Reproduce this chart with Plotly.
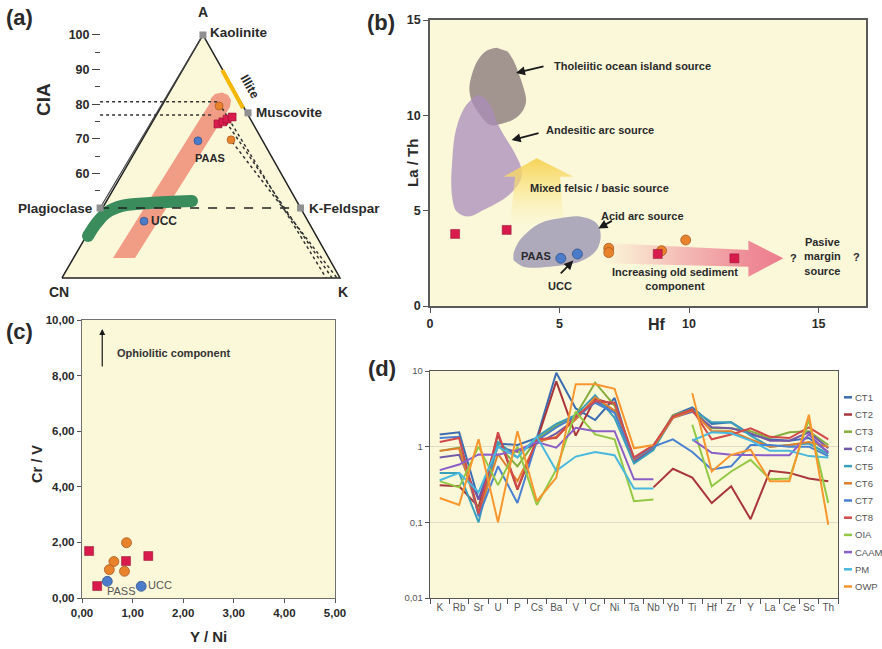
import plotly.graph_objects as go

W, H = 882, 649
FONT = "Liberation Sans, Arial, Helvetica, sans-serif"
INK = "#2a2a2a"
PANEL_BG = "#FBF8DA"
RED_SQ = "#D81B4C"
ORANGE = "#E8832C"
BLUE = "#4C7CC9"


def fx(p):
    return p / W


def fy(p):
    return 1 - p / H


def bold(vals):
    return [f"<b>{v}</b>" for v in vals]


# ================= (a) A-CN-K diagram =================
tri_pos = [0, 50.7, 100, 0]
tri_cia = [29.8, 100, 29.8, 29.8]
mineral_names = ["Kaolinite", "Muscovite", "Plagioclase", "K-Feldspar"]
mineral_pos = [50.7, 66.9, 13.7, 85.8]
mineral_cia = [100, 77.5, 50, 50]
illite_pos = [57.6, 65.1]
illite_cia = [89.9, 78.9]
cia_ticks = [60, 70, 80, 90, 100]
cia_minor = [55, 65, 75, 85, 95]
a_sq_pos = [56.1, 57.9, 59.4, 61.2]
a_sq_cia = [74.3, 74.9, 75.7, 76.3]
a_ci_pos = [56.5, 60.8]
a_ci_cia = [79.5, 69.7]
a_ref_pos = [48.9, 29.5]
a_ref_cia = [69.4, 46.2]
guide_levels = [80.7, 76.9]
guide_end = [55.8, 54.3]
trend_start_pos = [56.5, 59.0, 61.2]
trend_start_cia = [80.3, 74.9, 69.1]
trend_end_pos = [95.0, 97.1, 98.9]
band_pos = [18.35, 26.26, 60.43, 60.79, 59.71, 57.55, 55.04, 53.6, 53.24]
band_cia = [35.55, 35.55, 79.19, 81.21, 82.66, 83.38, 82.95, 81.79, 80.35]
granite_pos = [9.35, 12.23, 15.83, 21.58, 31.65, 46.76]
granite_cia = [41.9, 45.4, 48.55, 50.6, 51.45, 52.0]

# ================= (b) La/Th vs Hf =================
thol_x = [2.57, 2.2, 1.85, 1.61, 1.52, 1.6, 1.8, 2.32, 2.83, 3.3, 3.6, 3.71, 3.6, 3.47, 3.25, 3.0]
thol_y = [13.55, 13.4, 12.9, 12.1, 11.4, 10.8, 10.28, 9.5, 9.58, 9.85, 10.28, 10.8, 11.5, 12.03, 12.8, 13.35]
andes_x = [1.8, 1.35, 1.0, 0.86, 0.84, 1.03, 1.48, 2.06, 2.96, 3.47, 3.54, 3.28, 2.7, 2.32, 2.06]
andes_y = [11.07, 10.45, 9.23, 7.66, 5.9, 4.95, 4.69, 5.03, 5.73, 6.52, 7.13, 8.0, 9.32, 10.54, 10.98]
acid_x = [3.22, 3.47, 4.25, 5.02, 5.79, 6.43, 6.59, 6.43, 5.79, 4.63, 3.6, 3.22]
acid_y = [2.76, 3.46, 4.34, 4.6, 4.69, 4.34, 3.73, 2.94, 2.33, 2.06, 2.06, 2.41]
mixed_x = [3.09, 3.28, 2.83, 4.12, 5.54, 5.02, 5.15, 3.09]
mixed_y = [4.2, 6.78, 6.78, 7.75, 6.78, 6.78, 4.4, 4.2]
oldsed_x = [6.6, 12.29, 12.29, 13.64, 12.29, 12.29, 6.6, 6.6]
oldsed_y = [3.32, 2.94, 3.43, 2.5, 1.54, 2.06, 2.24, 3.32]
b_sq_hf = [0.97, 2.96, 8.79, 11.75]
b_sq_lath = [3.78, 3.99, 2.73, 2.5]
b_ci_hf = [6.9, 6.9, 8.94, 9.87]
b_ci_lath = [3.03, 2.8, 2.9, 3.46]
b_ref_hf = [5.05, 5.69]
b_ref_lath = [2.5, 2.73]
b_ticks = [0, 5, 10, 15]

# ================= (c) Cr/V vs Y/Ni =================
c_sq_yni = [0.14, 0.30, 0.87, 1.31]
c_sq_crv = [1.69, 0.43, 1.33, 1.51]
c_ci_yni = [0.88, 0.63, 0.54, 0.84]
c_ci_crv = [1.99, 1.31, 1.02, 0.96]
c_ref_names = ["PASS", "UCC"]
c_ref_yni = [0.50, 1.17]
c_ref_crv = [0.60, 0.42]
c_xticks = [0, 1, 2, 3, 4, 5]
c_xlabels = ["0,00", "1,00", "2,00", "3,00", "4,00", "5,00"]
c_yticks = [0, 2, 4, 6, 8, 10]
c_ylabels = ["0,00", "2,00", "4,00", "6,00", "8,00", "10,00"]

# ================= (d) normalised multi-element plot =================
elements = ["K", "Rb", "Sr", "U", "P", "Cs", "Ba", "V", "Cr", "Ni", "Ta",
            "Nb", "Yb", "Ti", "Hf", "Zr", "Y", "La", "Ce", "Sc", "Th"]
CT1 = [1.45, 1.55, 0.20, 1.10, 1.05, 1.30, 9.5, 3.2, 2.25, 4.4, 0.62, 0.95, 2.6, 3.3, 2.0, 2.1, 1.45, 1.25, 1.2, 1.3, 0.85]
CT2 = [0.31, 0.30, 0.16, 1.45, 0.27, 1.20, 7.3, 1.40, 4.3, 3.6, None, 0.29, 0.51, 0.39, 0.18, 0.30, 0.11, 0.48, 0.45, 0.38, 0.35]
CT3 = [0.88, 0.97, 0.14, 1.05, 0.55, 1.25, 1.9, 2.6, 7.0, 3.5, 0.70, 1.0, 2.6, 3.1, 1.75, 1.75, 1.6, 1.3, 1.55, 1.6, 1.05]
CT4 = [0.72, 0.78, 0.20, 1.0, 0.85, 1.1, 1.5, 2.3, 4.0, 3.0, 0.65, 0.95, 2.4, 2.9, 1.8, 1.75, 1.5, 1.2, 1.2, 1.55, 0.95]
CT5 = [0.45, 0.45, 0.10, 1.15, 0.72, 1.35, 2.0, 2.6, 4.8, 2.4, 0.60, 0.90, 2.5, 3.1, 2.1, 2.1, 1.4, 1.0, 1.05, 1.1, 0.80]
CT6 = [0.88, 0.95, 0.13, 0.80, 0.35, 1.15, 1.35, 2.3, 4.5, 3.0, 0.68, 1.0, 2.4, 3.0, 1.6, 1.6, 1.25, 1.0, 1.05, 1.15, 1.0]
CT7 = [1.30, 1.35, 0.12, 0.55, 0.18, 1.20, 1.8, 2.5, 3.8, 2.8, 0.70, 1.0, 1.25, 0.85, 0.50, 0.55, 1.05, 1.05, 1.0, 1.0, 0.75]
CT8 = [1.15, 1.30, 0.13, 1.55, 0.28, 1.25, 1.3, 2.5, 4.0, 3.8, 0.72, 1.05, 2.5, 3.1, 1.25, 1.45, 1.75, 1.35, 1.3, 1.8, 1.25]
OIA = [0.35, 0.29, 1.0, 0.31, 1.0, 0.17, 0.5, 2.9, 1.45, 1.25, 0.19, 0.20, None, 1.95, 0.30, 0.47, 0.67, 0.37, 0.38, 2.27, 0.18]
CAAM = [0.49, 0.58, 0.79, 0.78, 0.9, 1.15, 0.97, 1.78, 1.6, 1.6, 0.37, 0.37, None, 1.25, 0.83, 0.78, 0.77, 0.77, 0.77, 1.45, 0.83]
PM = [0.36, 0.45, 0.25, 1.0, 0.72, 1.35, 0.48, 0.74, 0.85, 0.77, 0.28, 0.28, None, 1.2, 1.55, 1.5, 1.2, 0.88, 0.88, 0.75, 0.72]
OWP = [0.21, 0.17, 1.25, 0.10, 1.6, 0.19, 0.39, 6.7, 6.7, 5.8, 0.95, 1.05, None, 5.1, 0.47, 0.78, 0.91, 0.35, 0.35, 2.64, 0.093]
series_names = ["CT1", "CT2", "CT3", "CT4", "CT5", "CT6", "CT7", "CT8", "OIA", "CAAM", "PM", "OWP"]
series_values = [CT1, CT2, CT3, CT4, CT5, CT6, CT7, CT8, OIA, CAAM, PM, OWP]
series_colors = ["#3C6DB2", "#A8363A", "#86AE3E", "#7358A8", "#3A9FBA", "#DF7E2C",
                 "#4A80D0", "#D24A4A", "#92C844", "#8B5EC8", "#48B8DE", "#F8962E"]
d_yticks = [0.01, 0.1, 1, 10]
d_ylabels = ["0,01", "0,1", "1", "10"]

fig = go.Figure()

# ---------- panel (a) traces ----------
fig.add_trace(go.Scatter(x=tri_pos, y=tri_cia, mode="lines", fill="toself",
                         fillcolor=PANEL_BG, line=dict(color="#222", width=1.5),
                         xaxis="x", yaxis="y"))
fig.add_trace(go.Scatter(x=[mineral_pos[2], mineral_pos[0]], y=[50, 100], mode="lines",
                         line=dict(color="#444", width=1.2), xaxis="x", yaxis="y"))
fig.add_trace(go.Scatter(x=band_pos, y=band_cia, mode="lines", fill="toself",
                         fillcolor="rgba(238,140,118,0.85)", line=dict(width=0),
                         xaxis="x", yaxis="y"))
fig.add_trace(go.Scatter(x=granite_pos, y=granite_cia, mode="lines",
                         line=dict(color="#3A8C5C", width=12, shape="spline"),
                         xaxis="x", yaxis="y"))
fig.add_trace(go.Scatter(x=[granite_pos[0], granite_pos[-1]], y=[granite_cia[0], granite_cia[-1]],
                         mode="markers", marker=dict(color="#3A8C5C", size=12),
                         xaxis="x", yaxis="y"))
fig.add_trace(go.Scatter(x=[mineral_pos[2], mineral_pos[3]], y=[50, 50], mode="lines",
                         line=dict(color="#222", width=1.5, dash="dash"), xaxis="x", yaxis="y"))
for lvl, end in zip(guide_levels, guide_end):
    fig.add_trace(go.Scatter(x=[mineral_pos[2], end], y=[lvl, lvl], mode="lines",
                             line=dict(color="#333", width=1.5, dash="dot"), xaxis="x", yaxis="y"))
for sp, sc, ep in zip(trend_start_pos, trend_start_cia, trend_end_pos):
    fig.add_trace(go.Scatter(x=[sp, ep], y=[sc, tri_cia[0]], mode="lines",
                             line=dict(color="#333", width=1.5, dash="dot"), xaxis="x", yaxis="y"))
fig.add_trace(go.Scatter(x=illite_pos, y=illite_cia, mode="lines",
                         line=dict(color="#F5B800", width=4), xaxis="x", yaxis="y"))
fig.add_trace(go.Scatter(x=mineral_pos, y=mineral_cia, mode="markers",
                         marker=dict(symbol="square", size=7, color="#8f8f8f"),
                         xaxis="x", yaxis="y", cliponaxis=False))
fig.add_trace(go.Scatter(x=a_sq_pos, y=a_sq_cia, mode="markers",
                         marker=dict(symbol="square", size=8, color=RED_SQ,
                                     line=dict(color="#8a1030", width=0.5)),
                         xaxis="x", yaxis="y"))
fig.add_trace(go.Scatter(x=a_ci_pos, y=a_ci_cia, mode="markers",
                         marker=dict(size=8, color=ORANGE, line=dict(color="#a0501a", width=0.6)),
                         xaxis="x", yaxis="y"))
fig.add_trace(go.Scatter(x=a_ref_pos, y=a_ref_cia, mode="markers",
                         marker=dict(size=8, color=BLUE, line=dict(color="#2a4a80", width=0.6)),
                         xaxis="x", yaxis="y"))

# ---------- panel (b) traces ----------
fig.add_trace(go.Scatter(x=thol_x, y=thol_y, mode="lines", fill="toself",
                         fillcolor="rgba(140,124,124,0.8)", line=dict(width=0, shape="spline"),
                         xaxis="x2", yaxis="y2"))
fig.add_trace(go.Scatter(x=andes_x, y=andes_y, mode="lines", fill="toself",
                         fillcolor="rgba(170,140,185,0.75)", line=dict(width=0, shape="spline"),
                         xaxis="x2", yaxis="y2"))
fig.add_trace(go.Scatter(x=mixed_x, y=mixed_y, mode="lines", fill="toself",
                         fillgradient=dict(type="vertical",
                                           colorscale=[[0, "rgba(252,236,160,0)"],
                                                       [0.55, "rgba(250,224,120,0.6)"],
                                                       [1, "rgba(246,208,80,0.95)"]]),
                         line=dict(width=0), xaxis="x2", yaxis="y2"))
fig.add_trace(go.Scatter(x=acid_x, y=acid_y, mode="lines", fill="toself",
                         fillcolor="rgba(160,156,182,0.85)", line=dict(width=0, shape="spline"),
                         xaxis="x2", yaxis="y2"))
fig.add_trace(go.Scatter(x=oldsed_x, y=oldsed_y, mode="lines", fill="toself",
                         fillgradient=dict(type="horizontal",
                                           colorscale=[[0, "rgba(240,150,160,0)"],
                                                       [0.45, "rgba(238,135,150,0.55)"],
                                                       [0.8, "rgba(236,122,140,0.85)"],
                                                       [1, "rgba(236,118,136,0.95)"]]),
                         line=dict(width=0), xaxis="x2", yaxis="y2"))
fig.add_trace(go.Scatter(x=b_ci_hf, y=b_ci_lath, mode="markers",
                         marker=dict(size=10, color=ORANGE, line=dict(color="#a0501a", width=0.7)),
                         xaxis="x2", yaxis="y2"))
fig.add_trace(go.Scatter(x=b_sq_hf, y=b_sq_lath, mode="markers",
                         marker=dict(symbol="square", size=9, color=RED_SQ,
                                     line=dict(color="#8a1030", width=0.5)),
                         xaxis="x2", yaxis="y2"))
fig.add_trace(go.Scatter(x=b_ref_hf, y=b_ref_lath, mode="markers",
                         marker=dict(size=10, color=BLUE, line=dict(color="#2a4a80", width=0.7)),
                         xaxis="x2", yaxis="y2"))

# ---------- panel (c) traces ----------
fig.add_trace(go.Scatter(x=c_ci_yni, y=c_ci_crv, mode="markers",
                         marker=dict(size=10, color=ORANGE, line=dict(color="#a0501a", width=0.7)),
                         xaxis="x3", yaxis="y3"))
fig.add_trace(go.Scatter(x=c_sq_yni, y=c_sq_crv, mode="markers",
                         marker=dict(symbol="square", size=9, color=RED_SQ,
                                     line=dict(color="#8a1030", width=0.5)),
                         xaxis="x3", yaxis="y3"))
fig.add_trace(go.Scatter(x=c_ref_yni, y=c_ref_crv, mode="markers",
                         marker=dict(size=10, color=BLUE, line=dict(color="#2a4a80", width=0.7)),
                         xaxis="x3", yaxis="y3"))

# ---------- panel (d) traces ----------
for name, vals, col in zip(series_names, series_values, series_colors):
    fig.add_trace(go.Scatter(x=elements, y=vals, mode="lines", name=name,
                             line=dict(color=col, width=2), xaxis="x4", yaxis="y4"))

fig.update_traces(showlegend=False, hoverinfo="skip")

# ---------- axes ----------
tick_font = dict(family=FONT, size=12.5, color=INK)
fig.update_layout(
    width=W, height=H,
    margin=dict(l=0, r=0, t=0, b=0, autoexpand=False),
    paper_bgcolor="white", plot_bgcolor="rgba(0,0,0,0)",
    font=dict(family=FONT, color=INK),
    showlegend=False,
    xaxis=dict(domain=[fx(40), fx(360)], range=[-7.91, 107.19], visible=False, anchor="y"),
    yaxis=dict(domain=[fy(290), fy(28)], range=[26.30, 102.02], anchor="free", position=fx(100),
               tickvals=cia_ticks, ticktext=bold(cia_ticks), ticks="outside", ticklen=8,
               tickwidth=1.3, tickcolor="#444",
               showline=False, showgrid=False, zeroline=False, tickfont=tick_font,
               minor=dict(tickvals=cia_minor, ticks="outside", ticklen=5, tickcolor="#444")),
    xaxis2=dict(domain=[fx(430), fx(866)], range=[0, 16.83], anchor="y2",
                tickvals=b_ticks, ticktext=bold(b_ticks), ticks="outside", ticklen=5, tickcolor="#555",
                showline=True, mirror=True, linecolor="#5a5a5a", linewidth=1.6,
                showgrid=False, zeroline=False, tickfont=tick_font),
    yaxis2=dict(domain=[fy(306), fy(20)], range=[0, 15], anchor="x2",
                tickvals=b_ticks, ticktext=bold(b_ticks), ticks="outside", ticklen=5, tickcolor="#555",
                showline=True, mirror=True, linecolor="#5a5a5a", linewidth=1.6,
                showgrid=False, zeroline=False, tickfont=tick_font),
    xaxis3=dict(domain=[fx(82), fx(335)], range=[0, 5], anchor="y3",
                tickvals=c_xticks, ticktext=bold(c_xlabels), ticks="outside", ticklen=4, tickcolor="#555",
                showline=True, mirror=True, linecolor="#707070", linewidth=1.4,
                showgrid=False, zeroline=False, tickfont=dict(family=FONT, size=11.5, color=INK)),
    yaxis3=dict(domain=[fy(598), fy(320)], range=[0, 10], anchor="x3",
                tickvals=c_yticks, ticktext=bold(c_ylabels), ticks="outside", ticklen=4, tickcolor="#555",
                showline=True, mirror=True, linecolor="#707070", linewidth=1.4,
                showgrid=False, zeroline=False, tickfont=dict(family=FONT, size=11.5, color=INK)),
    xaxis4=dict(domain=[fx(430), fx(838)], range=[-0.5, 20.5], anchor="y4", type="category",
                tickson="boundaries", ticks="outside", ticklen=5, tickcolor="#555", tickangle=0,
                showline=True, mirror=True, linecolor="#555", linewidth=1.4,
                showgrid=False, zeroline=False, tickfont=dict(family=FONT, size=10, color="#555")),
    yaxis4=dict(domain=[fy(598), fy(371)], range=[-2, 1], anchor="x4", type="log",
                tickvals=d_yticks, ticktext=d_ylabels, ticks="outside", ticklen=4, tickcolor="#555",
                showline=True, mirror=True, linecolor="#555", linewidth=1.4,
                showgrid=True, gridcolor="#dedbc8", gridwidth=1, zeroline=False,
                tickfont=dict(family=FONT, size=9.5, color="#555")),
)

# panel backgrounds
for ax in ["2", "3", "4"]:
    fig.add_shape(type="rect", xref=f"x{ax} domain", yref=f"y{ax} domain",
                  x0=0, x1=1, y0=0, y1=1, fillcolor=PANEL_BG, line=dict(width=0), layer="below")

# compact legend for (d)
for i, (name, col) in enumerate(zip(series_names, series_colors)):
    yy = 397.3 + 17.2 * i
    fig.add_shape(type="line", xref="paper", yref="paper", x0=fx(844), x1=fx(852),
                  y0=fy(yy), y1=fy(yy), line=dict(color=col, width=2.5))
    fig.add_annotation(text=name, xref="paper", yref="paper", x=fx(853), y=fy(yy),
                       xanchor="left", yanchor="middle", showarrow=False,
                       font=dict(family=FONT, size=9.5, color="#555"))

ann = []


def label(text, x, y, size, xanchor="center", yanchor="middle", angle=0, color=INK,
          xref="paper", yref="paper", bold=True, **kw):
    ann.append(dict(text=f"<b>{text}</b>" if bold else text, x=x, y=y, xref=xref, yref=yref,
                    xanchor=xanchor, yanchor=yanchor, textangle=angle, showarrow=False,
                    font=dict(family=FONT, size=size, color=color), **kw))


# panel labels
label("(a)", fx(4), fy(18), 22, xanchor="left")
label("(b)", fx(365), fy(22), 22, xanchor="left")
label("(c)", fx(4), fy(331), 22, xanchor="left")
label("(d)", fx(366), fy(368), 22, xanchor="left")

# (a) labels
label("A", mineral_pos[0], 100, 14, xref="x", yref="y", yshift=23)
label("Kaolinite", mineral_pos[0], 100, 13.5, xanchor="left", xref="x", yref="y", xshift=5, yshift=2)
label("Muscovite", mineral_pos[1], mineral_cia[1], 13.5, xanchor="left", xref="x", yref="y", xshift=6)
label("Plagioclase", mineral_pos[2], 50, 13.5, xanchor="right", xref="x", yref="y", xshift=-5)
label("K-Feldspar", mineral_pos[3], 50, 13.5, xanchor="left", xref="x", yref="y", xshift=6)
label("CN", 0, tri_cia[0], 14, xref="x", yref="y", yshift=-14, xshift=-3)
label("K", 100, tri_cia[0], 14, xref="x", yref="y", yshift=-14, xshift=3)
label("Illite", 67.6, 85.0, 12.5, angle=60, xref="x", yref="y")
label("PAAS", a_ref_pos[0], a_ref_cia[0], 11, xref="x", yref="y", yshift=-17, xshift=12)
label("UCC", a_ref_pos[1], a_ref_cia[1], 12, xanchor="left", xref="x", yref="y", xshift=5)
label("CIA", fx(44), fy(100), 19, angle=-90)

# (b) labels
label("La / Th", fx(412), fy(163), 15, angle=-90)
label("Hf", fx(657), fy(324), 16)
label("Tholeiitic ocean island source", 4.71, 12.59, 11, xanchor="left", xref="x2", yref="y2")
label("Andesitic arc source", 4.40, 9.23, 11, xanchor="left", xref="x2", yref="y2")
label("Mixed felsic / basic source", 3.78, 6.19, 11, xanchor="left", xref="x2", yref="y2")
label("Acid arc source", 6.53, 4.72, 11, xanchor="left", xref="x2", yref="y2")
label("PAAS", 4.75, 2.62, 11, xanchor="right", xref="x2", yref="y2")
label("UCC", 5.02, 1.05, 11, xref="x2", yref="y2")
label("Increasing old sediment<br>component", 9.46, 1.42, 11, xref="x2", yref="y2")
label("Pasive<br>margin<br>source", 15.14, 2.57, 11, xref="x2", yref="y2")
label("?", 14.02, 2.52, 11, xref="x2", yref="y2")
label("?", 16.45, 2.57, 11, xref="x2", yref="y2")

# (c) labels
label("Cr / V", fx(37), fy(464), 14.5, angle=-90)
label("Y / Ni", fx(208), fy(636), 15)
label("Ophiolitic component", 0.65, 8.8, 11, xanchor="left", xref="x3", yref="y3", color="#333")
label(c_ref_names[0], c_ref_yni[0], c_ref_crv[0], 11, xanchor="left", xref="x3", yref="y3",
      bold=False, color="#555", yshift=-10, xshift=-2)
label(c_ref_names[1], c_ref_yni[1], c_ref_crv[1], 11, xanchor="left", xref="x3", yref="y3",
      bold=False, color="#555", xshift=5, yshift=1)

# arrows
arrow_specs = [
    ("x2", "y2", 3.32, 12.22, 4.44, 12.59),
    ("x2", "y2", 3.15, 8.70, 4.25, 9.09),
    ("x2", "y2", 6.50, 4.07, 7.08, 4.51),
    ("x2", "y2", 5.53, 2.38, 4.99, 1.63),
    ("x3", "y3", 0.40, 9.68, 0.40, 8.27),
]
for xr, yr, hx, hy, tx, ty in arrow_specs:
    ann.append(dict(x=hx, y=hy, ax=tx, ay=ty, xref=xr, yref=yr, axref=xr, ayref=yr,
                    showarrow=True, arrowhead=2, arrowsize=1, arrowwidth=1.8 if xr == "x2" else 1.2,
                    arrowcolor="#1a1a1a", text=""))

for a in ann:
    fig.add_annotation(**a)

fig.write_html("out.html", config={"displayModeBar": False},
               post_script="document.body.style.margin='0px';document.body.style.padding='0px';")
